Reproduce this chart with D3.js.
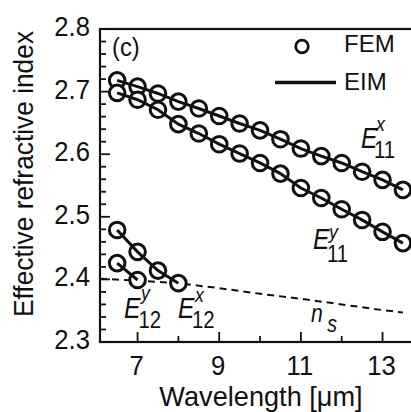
<!DOCTYPE html>
<html>
<head>
<meta charset="utf-8">
<title>effective index vs wavelength</title>
<script src="https://cdn.jsdelivr.net/npm/d3@7"></script>
<style>
  body { margin:0; background:#fff; }
  svg text { font-family: "Liberation Sans", Arial, sans-serif; fill:#111; }
</style>
</head>
<body>
<svg id="chart" width="411" height="412"></svg>
<script>
// wavelengths (um) for FEM points
const lamMain = [6.5, 7, 7.5, 8, 8.5, 9, 9.5, 10, 10.5, 11, 11.5, 12, 12.5, 13, 13.5];
const e11x = [2.718, 2.708, 2.697, 2.684, 2.673, 2.661, 2.649, 2.638, 2.624, 2.609, 2.597, 2.586, 2.572, 2.559, 2.543];
const e11y = [2.698, 2.687, 2.671, 2.648, 2.633, 2.616, 2.601, 2.586, 2.569, 2.546, 2.530, 2.512, 2.495, 2.476, 2.458];
const lamE12x = [6.5, 7, 7.5, 8];
const e12x = [2.479, 2.444, 2.414, 2.394];
const lamE12y = [6.5, 7];
const e12y = [2.426, 2.399];
// substrate index n_s (dashed)
const lamNs = [6.08, 7, 8, 9, 10, 11, 12, 13, 13.5];
const ns = [2.401, 2.398, 2.394, 2.386, 2.377, 2.369, 2.360, 2.351, 2.347];

const xTicks = [7, 9, 11, 13];
const yTicks = [2.3, 2.4, 2.5, 2.6, 2.7, 2.8];

const svg = d3.select('#chart');
const pLeft = 100, pTop = 29, pBottom = 342;
const x = d3.scaleLinear().domain([6.08, 13.9]).range([pLeft, pLeft + 7.82*40.83]);
const y = d3.scaleLinear().domain([2.3, 2.8]).range([pBottom, pTop]);

// text placed with a horizontal squeeze (the original font is a narrow Helvetica)
function txt(px, py, str, size, sx, extra) {
  return svg.append('text')
    .attr('transform', `translate(${px},${py})${extra || ''} scale(${sx},1)`)
    .attr('font-size', size).text(str);
}

// frame (right side runs off the picture)
svg.append('rect').attr('x', pLeft).attr('y', pTop)
  .attr('width', x(13.9)-pLeft).attr('height', pBottom-pTop)
  .attr('fill', 'none').attr('stroke', '#111').attr('stroke-width', 2.2);

// y ticks, inward
svg.append('g').selectAll('line').data(d3.range(2.3, 2.8001, 0.02)).enter().append('line')
  .attr('x1', pLeft).attr('x2', (d,i) => pLeft + (i % 5 === 0 ? 10 : 6))
  .attr('y1', d => y(d)).attr('y2', d => y(d))
  .attr('stroke', '#111').attr('stroke-width', 1.8);
yTicks.forEach(d => txt(90, y(d) + 7, d.toFixed(1), 27, 0.95).attr('text-anchor', 'end'));

// x ticks, inward
svg.append('g').selectAll('line').data(d3.range(7, 13.01, 1)).enter().append('line')
  .attr('x1', d => x(d)).attr('x2', d => x(d))
  .attr('y1', pBottom).attr('y2', (d,i) => pBottom - (i % 2 === 0 ? 10 : 6))
  .attr('stroke', '#111').attr('stroke-width', 1.8);
xTicks.forEach(d => txt(x(d) - 1, 375, d, 27, 0.95).attr('text-anchor', 'middle'));

// axis titles
txt(261, 406, 'Wavelength [\u03bcm]', 28, 0.97).attr('text-anchor', 'middle');
txt(33, 174, 'Effective refractive index', 28, 0.94, ' rotate(-90)').attr('text-anchor', 'middle');

// n_s dashed line
const line = d3.line().x(d => x(d[0])).y(d => y(d[1]));
svg.append('path').datum(d3.zip(lamNs, ns)).attr('d', line)
  .attr('fill', 'none').attr('stroke', '#111').attr('stroke-width', 2)
  .attr('stroke-dasharray', '7,5');

const series = [[lamMain, e11x], [lamMain, e11y], [lamE12x, e12x], [lamE12y, e12y]];

// FEM circles (white inside hides the dashed line)
series.forEach(s => {
  svg.append('g').selectAll('circle').data(d3.zip(s[0], s[1])).enter().append('circle')
    .attr('cx', d => x(d[0])).attr('cy', d => y(d[1])).attr('r', 7.8)
    .attr('fill', '#fff').attr('stroke', '#111').attr('stroke-width', 3);
});
// EIM lines on top
series.forEach(s => {
  svg.append('path').datum(d3.zip(s[0], s[1])).attr('d', line)
    .attr('fill', 'none').attr('stroke', '#111').attr('stroke-width', 3);
});

// legend
svg.append('circle').attr('cx', 302).attr('cy', 46.5).attr('r', 6.3)
  .attr('fill', 'none').attr('stroke', '#111').attr('stroke-width', 2.8);
txt(344, 52, 'FEM', 24, 1);
svg.append('line').attr('x1', 275).attr('x2', 336).attr('y1', 82.5).attr('y2', 82.5)
  .attr('stroke', '#111').attr('stroke-width', 3.4);
txt(344, 90, 'EIM', 24, 1);

txt(112, 56, '(c)', 25, 0.95);

// mode labels: E with stacked sub/superscript, one text each
function modeLabel(ex, eb, subX, subB, supX, supB, sub, sup) {
  const sx = 0.85;
  const t = svg.append('text')
    .attr('transform', `translate(${ex},${eb}) scale(${sx},1)`);
  t.append('tspan').attr('x', 0).attr('y', 0).attr('font-size', 29)
    .attr('font-style', 'italic').text('E');
  t.append('tspan').attr('x', (subX - ex) / sx).attr('y', subB - eb).attr('font-size', 24).text(sub);
  t.append('tspan').attr('x', (supX - ex) / sx).attr('y', supB - eb).attr('font-size', 21)
    .attr('font-style', 'italic').text(sup);
}
modeLabel(361, 148, 374, 158, 376, 131, '11', 'x');
modeLabel(313, 249, 327, 261.5, 329, 239, '11', 'y');
modeLabel(124, 318, 138.5, 328, 141, 300, '12', 'y');
modeLabel(178, 318, 192, 328, 195, 301.5, '12', 'x');

const nsLabel = svg.append('text').attr('transform', 'translate(311,321.5) scale(0.85,1)');
nsLabel.append('tspan').attr('x', 0).attr('y', 0).attr('font-size', 25)
  .attr('font-style', 'italic').text('n');
nsLabel.append('tspan').attr('x', 19).attr('y', 10).attr('font-size', 23)
  .attr('font-style', 'italic').text('s');
</script>
</body>
</html>
